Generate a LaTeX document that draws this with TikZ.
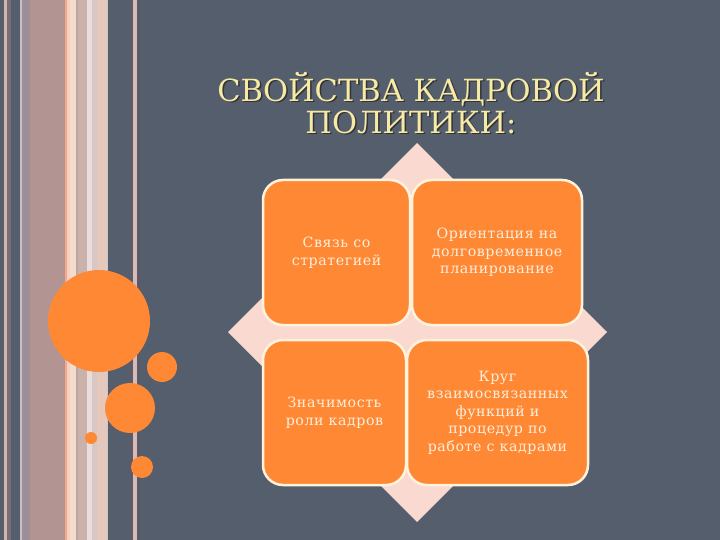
\documentclass[tikz,border=0pt]{standalone}
\usepackage{fontspec}
\setmainfont{DejaVu Serif}
\newfontfamily\celfont[LetterSpace=4]{DejaVu Serif}
\definecolor{slate}{RGB}{85,94,108}
\definecolor{orng}{RGB}{254,136,52}
\definecolor{dpink}{RGB}{250,218,208}
\definecolor{bcream}{RGB}{255,243,222}
\definecolor{ttl}{RGB}{246,234,165}
\definecolor{btxt}{RGB}{253,238,220}
\definecolor{shad}{RGB}{50,50,55}
\definecolor{sa}{RGB}{211,181,175}
\definecolor{sb}{RGB}{120,110,120}
\definecolor{sc}{RGB}{200,190,195}
\definecolor{sd}{RGB}{156,143,152}
\definecolor{se}{RGB}{178,149,146}
\definecolor{sf}{RGB}{242,168,142}
\definecolor{sg}{RGB}{249,207,191}
\definecolor{sh}{RGB}{242,221,204}
\definecolor{si}{RGB}{190,165,160}
\definecolor{sj}{RGB}{202,178,171}
\definecolor{sk}{RGB}{233,222,221}
\definecolor{sl}{RGB}{217,199,196}
\definecolor{sm}{RGB}{230,199,188}
\definecolor{sn}{RGB}{200,200,200}
\definecolor{so}{RGB}{95,90,103}
\definecolor{sp}{RGB}{214,188,184}
\definecolor{sq}{RGB}{92,88,102}
\tikzset{
  stripe/.style={fill=#1, draw=none},
  dot/.style={circle, fill=orng, draw=none, inner sep=0pt},
  cell/.style={draw=bcream, line width=2.5pt, fill=orng, rounded corners=20pt,
    minimum height=145pt, align=center, text=btxt, font=\celfont\fontsize{14.2}{17.5}\selectfont, inner sep=1pt},
  ttlstyle/.style={align=center, font=\fontsize{30.5}{32}\selectfont},
}
\begin{document}
\begin{tikzpicture}[x=1pt,y=-1pt]
\fill[slate] (0,0) rectangle (720,540);
\useasboundingbox (0,0) rectangle (720,540);
% stripes
\fill[stripe=sa] (4,0) rectangle (7,540);
\fill[stripe=sb] (7,0) rectangle (11,540);
\fill[stripe=sc] (20,0) rectangle (22,540);
\fill[stripe=sd] (22,0) rectangle (30,540);
\fill[stripe=se] (30,0) rectangle (65,540);
\fill[stripe=sf] (65,0) rectangle (67,540);
\fill[stripe=sg] (67,0) rectangle (70,540);
\fill[stripe=sh] (70,0) rectangle (76,540);
\fill[stripe=si] (76,0) rectangle (78,540);
\fill[stripe=sj] (78,0) rectangle (87,540);
\fill[stripe=sk] (87,0) rectangle (92,540);
\fill[stripe=sl] (92,0) rectangle (97,540);
\fill[stripe=sm] (97,0) rectangle (107,540);
\fill[stripe=sn] (107,0) rectangle (108,540);
\fill[stripe=so] (130,0) rectangle (133,540);
\fill[stripe=sp] (133,0) rectangle (137,540);
\fill[stripe=sq] (137,0) rectangle (140,540);
% circles
\node[dot, minimum size=102pt] (c1) at (99,321) {};
\node[dot, minimum size=30pt] (c2) at (162,367) {};
\node[dot, minimum size=50pt] (c3) at (130,408) {};
\node[dot, minimum size=12pt] (c4) at (91,438) {};
\node[dot, minimum size=22pt] (c5) at (142,467) {};
% title
\node[ttlstyle, text=shad] (tshadow) at (412.5,104.5) {СВОЙСТВА КАДРОВОЙ\\ПОЛИТИКИ:};
\node[ttlstyle, text=ttl] (title) at (411,103) {СВОЙСТВА КАДРОВОЙ\\ПОЛИТИКИ:};
% diamond
\fill[dpink] (417,143) -- (607,332) -- (417,522) -- (228,332) -- cycle;
% cells
\node[cell, minimum width=147pt] (tl) at (336.5,252.5) {Связь со\\стратегией};
\node[cell, minimum width=170pt] (tr) at (497,252.5) {Ориентация на\\долговременное\\планирование};
\node[cell, minimum width=143pt] (bl) at (334.5,412.5) {Значимость\\роли кадров};
\node[cell, minimum width=181pt] (br) at (497.5,412.5) {Круг\\взаимосвязанных\\функций и\\процедур по\\работе с кадрами};
\end{tikzpicture}
\end{document}
